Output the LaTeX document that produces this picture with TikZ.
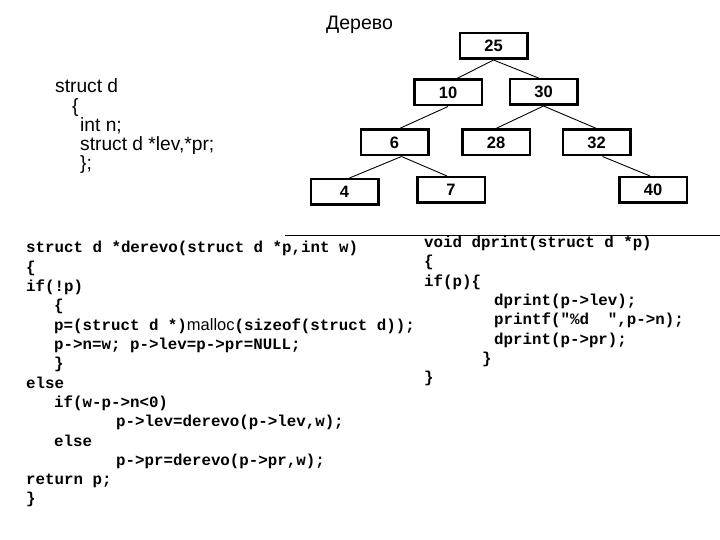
\documentclass[tikz,border=0pt]{standalone}
\usepackage{fontspec}
\setmainfont{Liberation Sans}
\newfontfamily\codefont{Liberation Mono}
\newfontfamily\arialfont{Liberation Sans}
\tikzset{
  tbox/.style={draw, line width=2.5bp, minimum width=67.5bp, minimum height=25.5bp, inner sep=0pt,
    font=\bfseries\fontsize{16.5bp}{16.5bp}\selectfont},
  edge/.style={line width=0.9bp},
  code/.style={anchor=base west, inner sep=0pt, font=\codefont\bfseries\fontsize{15.8bp}{16bp}\selectfont},
  stxt/.style={anchor=base west, inner sep=0pt, font=\fontsize{19.2bp}{19bp}\selectfont},
  ttl/.style={anchor=base west, inner sep=0pt, font=\fontsize{19.5bp}{20bp}\selectfont},
}
\begin{document}
\begin{tikzpicture}[x=1bp,y=-1bp]
\fill[white] (0,0) rectangle (720,540);
\useasboundingbox (0,0) rectangle (720,540);

% title
\node[ttl] (title) at (326,30) {Дерево};

% struct text
\node[stxt] (s1) at (55,93) {struct d};
\node[stxt] (s2) at (72,112.2) {\{};
\node[stxt] (s3) at (80,131.4) {int n;};
\node[stxt] (s4) at (80,150.6) {struct d *lev,*pr;};
\node[stxt] (s5) at (80,169.8) {\};};

% tree
\node[tbox] (n25) at (493.5,46) {25};
\node[tbox] (n10) at (448,92.5) {10};
\node[tbox] (n30) at (543.5,92) {30};
\node[tbox] (n6) at (394.5,142.5) {6};
\node[tbox] (n28) at (496,142.5) {28};
\node[tbox] (n32) at (596.5,142.5) {32};
\node[tbox] (n4) at (344.5,192) {4};
\node[tbox] (n7) at (451,190) {7};
\node[tbox] (n40) at (653,190) {40};

\draw[edge] (n25.south) -- ([xshift=9bp]n10.north);
\draw[edge] (n25.south) -- ([xshift=-5bp]n30.north);
\draw[edge] (n10.south) -- ([xshift=5bp]n6.north);
\draw[edge] (n30.south) -- (n28.north);
\draw[edge] (n30.south) -- (n32.north);
\draw[edge] ([xshift=7bp]n6.south) -- ([xshift=5bp]n4.north);
\draw[edge] ([xshift=7bp]n6.south) -- ([xshift=-4bp]n7.north);
\draw[edge] ([xshift=6bp]n32.south) -- ([xshift=-3bp]n40.north);

% separator line
\coordinate (ls) at (285,236);
\coordinate (le) at (720,236);
\draw[line width=1bp] (ls) -- (le);

% left code
\node[code] (c1) at (26,253) {struct d *derevo(struct d *p,int w)};
\node[code] (c2) at (26,272.3) {\{};
\node[code] (c3) at (26,291.6) {if(!p)};
\node[code] (c4) at (54,310.9) {\{};
\node[code] (c5) at (54,330.2) {p=(struct d *){\arialfont\mdseries\fontsize{16.5bp}{16bp}\selectfont malloc}(sizeof(struct d));};
\node[code] (c6) at (54,349.5) {p->n=w; p->lev=p->pr=NULL;};
\node[code] (c7) at (54,368.8) {\}};
\node[code] (c8) at (26,388.1) {else};
\node[code] (c9) at (54,407.4) {if(w-p->n<0)};
\node[code] (c10) at (116,426.7) {p->lev=derevo(p->lev,w);};
\node[code] (c11) at (54,446) {else};
\node[code] (c12) at (116,465.3) {p->pr=derevo(p->pr,w);};
\node[code] (c13) at (26,484.6) {return p;};
\node[code] (c14) at (26,503.9) {\}};

% right code
\node[code] (r1) at (424,247.5) {void dprint(struct d *p)};
\node[code] (r2) at (424,266.8) {\{};
\node[code] (r3) at (424,286.1) {if(p)\{};
\node[code] (r4) at (494,305.4) {dprint(p->lev);};
\node[code] (r5) at (494,324.7) {printf("\%d\ \ ",p->n);};
\node[code] (r6) at (494,344) {dprint(p->pr);};
\node[code] (r7) at (482,363.3) {\}};
\node[code] (r8) at (424,382.6) {\}};
\end{tikzpicture}
\end{document}
